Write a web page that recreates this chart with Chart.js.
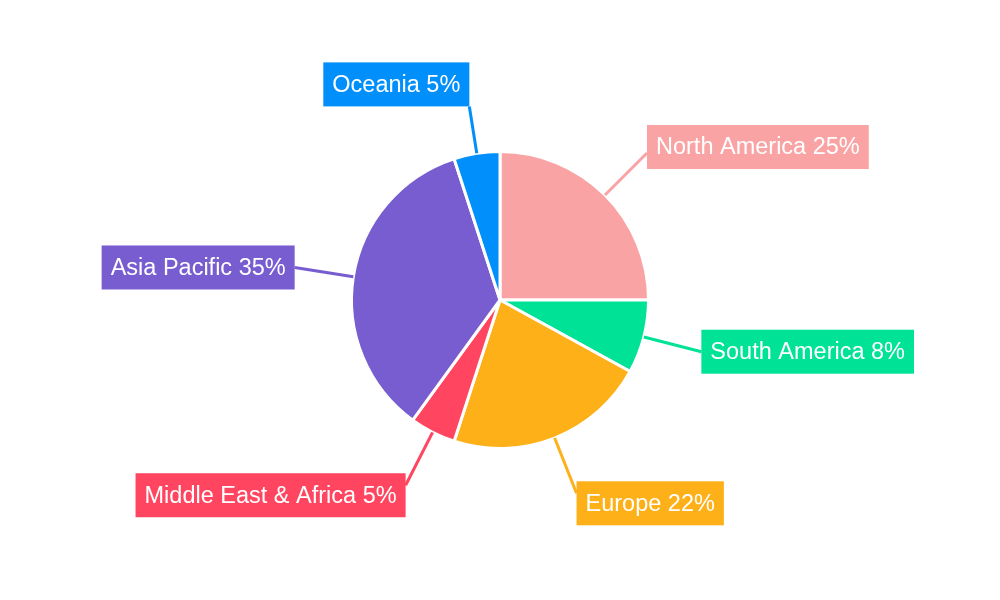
<!DOCTYPE html><html><head><script src="https://cdn.jsdelivr.net/npm/chart.js"></script>
<style>body{margin:0;background:#fff}</style></head><body>
<canvas id="c" width="1000" height="600"></canvas>
<script>
const categories=["North America","South America","Europe","Middle East & Africa","Asia Pacific","Oceania"];
const values=[25,8,22,5,35,5];
const colors=["#F9A3A4","#00E396","#FEB019","#FF4560","#775DD0","#008FFB"];
const labelPlugin={id:'lbl',afterDatasetsDraw(chart){
 const ctx=chart.ctx;const meta=chart.getDatasetMeta(0);
 ctx.save();ctx.font='23.5px "Liberation Sans", Arial, sans-serif';ctx.textBaseline='middle';
 meta.data.forEach((arc,i)=>{
  const a=(arc.startAngle+arc.endAngle)/2,r=arc.outerRadius,cx=arc.x,cy=arc.y;const s=Math.sin(a);
  const k=s<-0.8?1.32:1.4;
  const sx=cx+Math.cos(a)*r,sy=cy+s*r,ex=cx+Math.cos(a)*r*k,ey=cy+s*r*k;
  ctx.strokeStyle=colors[i];ctx.lineWidth=3;ctx.beginPath();ctx.moveTo(sx,sy);ctx.lineTo(ex,ey);ctx.stroke();
  const t=categories[i]+' '+values[i]+'%';const w=ctx.measureText(t).width+18,h=44;
  let x=Math.cos(a)>=0?ex:ex-w;let y;
  if(s>0.8)y=ey-12;else if(s<-0.8)y=ey-h;else y=ey-h/2-(s<-0.3?6:0);
  ctx.fillStyle=colors[i];ctx.fillRect(x,y,w,h);ctx.fillStyle='#fff';ctx.fillText(t,x+9,y+h/2+1);
 });ctx.restore();}};
new Chart(document.getElementById('c'),{type:'pie',data:{labels:categories,datasets:[{data:values,backgroundColor:colors,borderColor:'#fff',borderWidth:3}]},
options:{responsive:false,animation:false,layout:{padding:150},plugins:{legend:{display:false},tooltip:{enabled:false}}},plugins:[labelPlugin]});
</script></body></html>
